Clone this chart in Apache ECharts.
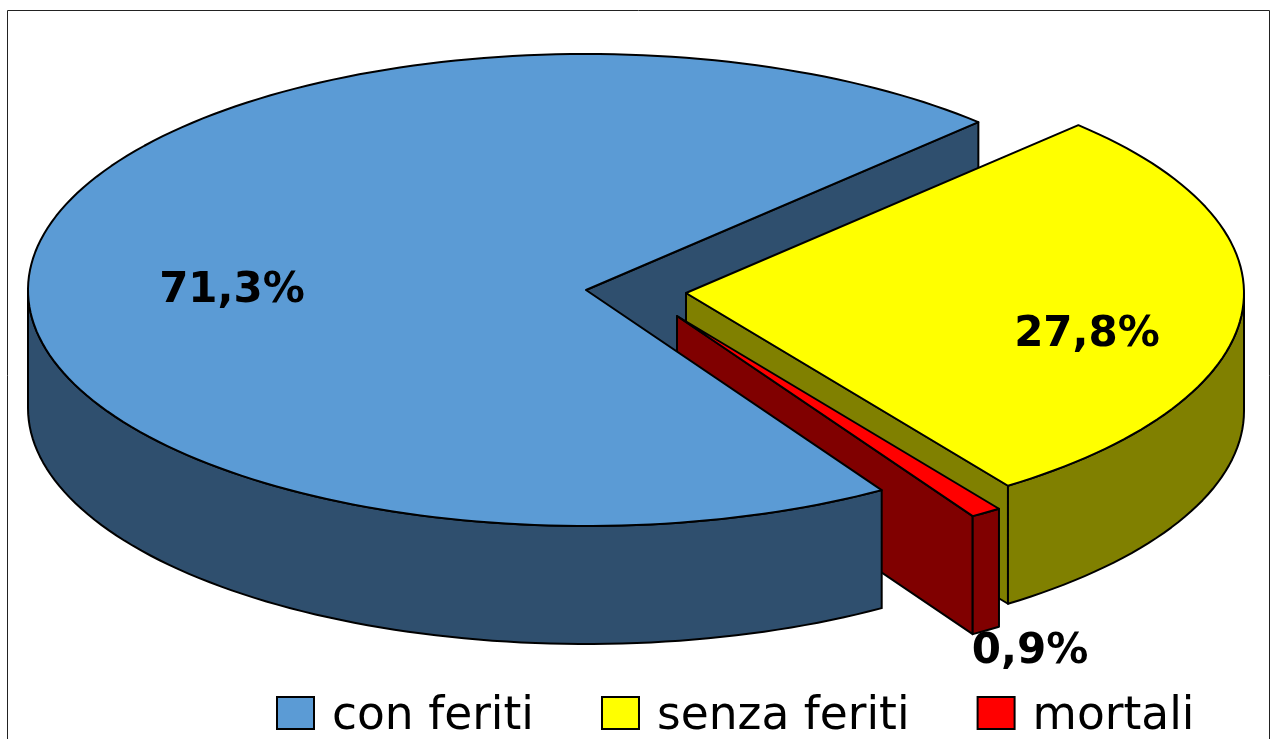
<!DOCTYPE html>
<html>
<head>
<meta charset="utf-8">
<style>html,body{margin:0;padding:0;background:#fff;overflow:hidden}#c{width:1271px;height:739px}</style>
<script src="https://cdn.jsdelivr.net/npm/echarts@6/dist/echarts.min.js"></script>
</head>
<body>
<div id="c"></div>
<script>
const categories = ['con feriti', 'senza feriti', 'mortali'];
const shares = [71.3, 27.8, 0.9];
const topColors = ['#5B9BD5', '#FFFF00', '#FF0000'];
const sideColors = ['#2F4F6E', '#808000', '#800000'];
const sliceCentres = [[586, 290], [686, 293], [677, 316]];
const labelCentres = [[232, 291], [1087, 335], [1030, 652]];

const RX = 558, RY = 236, DEPTH = 118, FIRST_ANGLE = 58;
const FONT = '"DejaVu Sans", Verdana, sans-serif';
const total = shares.reduce((a, b) => a + b, 0);
const spans = [];
let cursor = FIRST_ANGLE;
shares.forEach(v => { const sweep = v / total * 360; spans.push([cursor, cursor + sweep]); cursor += sweep; });

const pt = (i, deg, dy) => {
  const r = deg * Math.PI / 180;
  return [sliceCentres[i][0] + RX * Math.cos(r), sliceCentres[i][1] + RY * Math.sin(r) + (dy || 0)];
};
const arc = (i, a, b, dy) => {
  const out = [], n = Math.max(2, Math.ceil(Math.abs(b - a) / 1.5));
  for (let k = 0; k <= n; k++) out.push(pt(i, a + (b - a) * k / n, dy));
  return out;
};
const poly = (points, fill) => ({
  type: 'polygon', shape: { points },
  style: { fill, stroke: '#000', lineWidth: 2, lineJoin: 'round' }
});
const radialWall = (i, deg) => {
  const c = sliceCentres[i];
  return poly([c, pt(i, deg), pt(i, deg, DEPTH), [c[0], c[1] + DEPTH]], sideColors[i]);
};
const outerWall = (i, a, b) =>
  poly(arc(i, a, b, 0).concat(arc(i, b, a, DEPTH)), sideColors[i]);
const topFace = i =>
  poly([sliceCentres[i]].concat(arc(i, spans[i][0], spans[i][1])), topColors[i]);
const label = i => ({
  type: 'text', x: labelCentres[i][0], y: labelCentres[i][1],
  style: {
    text: shares[i].toFixed(1).replace('.', ',') + '%',
    fill: '#000', font: 'bold 42px ' + FONT, align: 'center', verticalAlign: 'middle'
  }
});

const renderers = {
  blueBackWall: () => ({ type: 'group', children: [radialWall(0, spans[0][1])] }),
  yellow: () => ({ type: 'group', children: [
    radialWall(1, spans[1][1]), outerWall(1, 360, spans[1][1]), topFace(1), label(1)
  ]}),
  red: () => ({ type: 'group', children: [
    radialWall(2, spans[2][1]), outerWall(2, spans[2][0], spans[2][1]), topFace(2), label(2)
  ]}),
  blue: () => ({ type: 'group', children: [
    outerWall(0, spans[0][0], 180), topFace(0), label(0)
  ]})
};
const mkSeries = (name, i, key) => ({
  type: 'custom', name, coordinateSystem: 'none', silent: true,
  itemStyle: { color: topColors[i] },
  data: [shares[i]], renderItem: renderers[key]
});

const chart = echarts.init(document.getElementById('c'), null, { renderer: 'canvas' });
chart.setOption({
  animation: false,
  backgroundColor: '#fff',
  legend: {
    data: categories, left: 276, top: 694, padding: 0, itemWidth: 37, itemHeight: 32, itemGap: 67,
    icon: 'rect', selectedMode: false,
    itemStyle: { borderColor: '#000', borderWidth: 2 },
    formatter: n => '{t|' + n + '}',
    textStyle: {
      color: '#000',
      rich: { t: { fontFamily: FONT, fontSize: 45.5, color: '#000', padding: [8, 0, 0, 13] } }
    }
  },
  graphic: [{
    type: 'rect', shape: { x: 7.5, y: 10.5, width: 1262, height: 760 }, silent: true, z: -1,
    style: { fill: 'none', stroke: '#222', lineWidth: 1 }
  }],
  series: [
    mkSeries('con feriti (parete)', 0, 'blueBackWall'),
    mkSeries(categories[1], 1, 'yellow'),
    mkSeries(categories[2], 2, 'red'),
    mkSeries(categories[0], 0, 'blue')
  ]
});
</script>
</body>
</html>
